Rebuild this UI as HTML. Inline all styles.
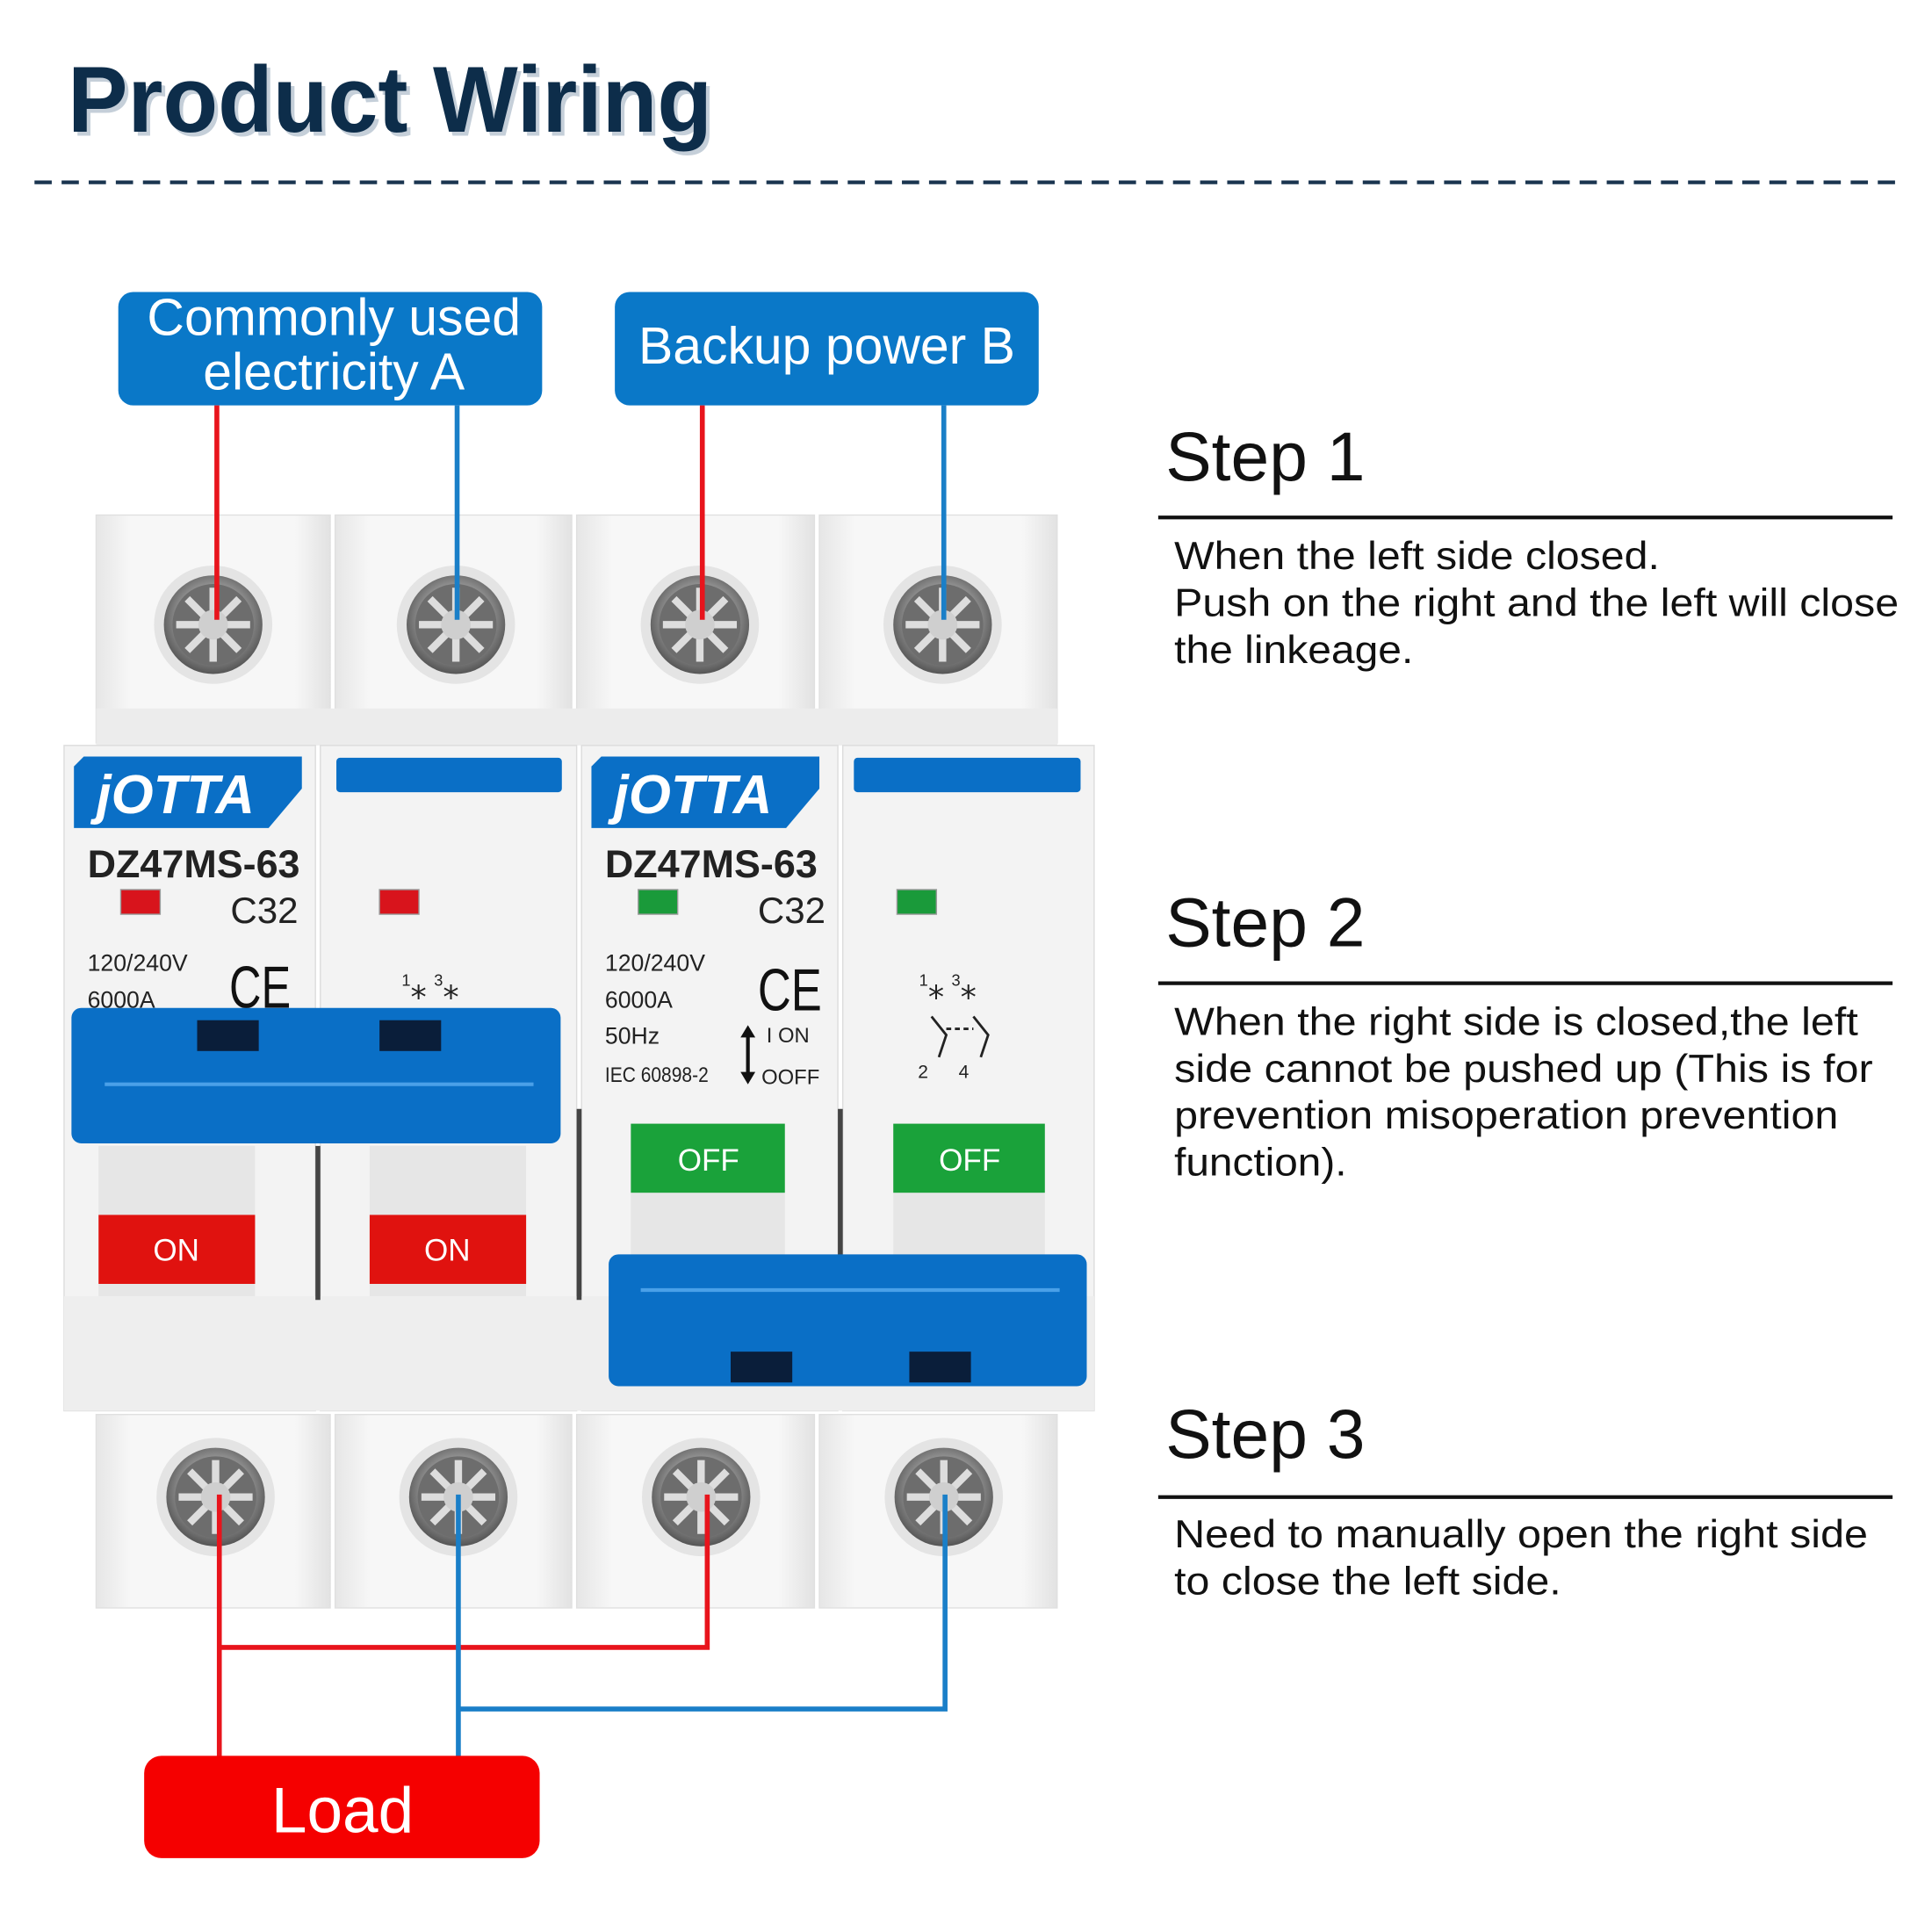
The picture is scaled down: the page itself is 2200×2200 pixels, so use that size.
<!DOCTYPE html>
<html><head><meta charset="utf-8"><style>
html,body{margin:0;padding:0;background:#fff;}
svg{display:block;}
text{font-family:"Liberation Sans",sans-serif;}
</style></head><body>
<svg width="2200" height="2200" viewBox="0 0 1568 1568" xmlns="http://www.w3.org/2000/svg">
<defs>
<radialGradient id="scr" cx="50%" cy="45%" r="55%">
<stop offset="0" stop-color="#e8e8e8"/><stop offset="0.6" stop-color="#9a9a9a"/><stop offset="1" stop-color="#555"/>
</radialGradient>
<linearGradient id="mod" x1="0" x2="1"><stop offset="0" stop-color="#e6e6e6"/><stop offset="0.15" stop-color="#f7f7f7"/><stop offset="0.85" stop-color="#f7f7f7"/><stop offset="1" stop-color="#e2e2e2"/></linearGradient>
<g id="screw">
<circle r="48" fill="#e4e4e4"/>
<circle r="40" fill="url(#scr)"/>
<circle r="33" fill="#6d6d6d"/>
<g stroke="#ddd" stroke-width="6">
<line x1="-30" y1="0" x2="30" y2="0"/><line x1="0" y1="-30" x2="0" y2="30"/>
<line x1="-21" y1="-21" x2="21" y2="21"/><line x1="-21" y1="21" x2="21" y2="-21"/>
</g>
<circle r="12" fill="#cfcfcf"/>
</g>
</defs>
<rect width="1568" height="1568" fill="#fff"/>
<text x="58" y="110" font-size="76" font-weight="bold" fill="#9fb0c0" opacity="0.6" textLength="523" lengthAdjust="spacingAndGlyphs">Product Wiring</text>
<text x="55" y="107" font-size="76" font-weight="bold" fill="#0d2d4a" textLength="523" lengthAdjust="spacingAndGlyphs">Product Wiring</text>
<line x1="28" y1="148" x2="1540" y2="148" stroke="#1a3550" stroke-width="3" stroke-dasharray="14 8"/>

<rect x="96" y="237" width="344" height="92" rx="12" fill="#0a78c8"/>
<text x="271" y="272" font-size="42" fill="#fff" text-anchor="middle">Commonly used</text>
<text x="271" y="316" font-size="42" fill="#fff" text-anchor="middle">electricity A</text>
<rect x="499" y="237" width="344" height="92" rx="12" fill="#0a78c8"/>
<text x="671" y="295" font-size="42" fill="#fff" text-anchor="middle">Backup power B</text>

<g fill="url(#mod)" stroke="#e0e0e0">
<rect x="78" y="418" width="190" height="185"/><rect x="272" y="418" width="192" height="185"/>
<rect x="468" y="418" width="193" height="185"/><rect x="665" y="418" width="193" height="185"/>
</g>
<rect x="78" y="575" width="780" height="30" fill="#ececec"/>
<use href="#screw" x="173" y="507"/><use href="#screw" x="370" y="507"/><use href="#screw" x="568" y="507"/><use href="#screw" x="765" y="507"/>
<g stroke-width="4" fill="none">
<line x1="176" y1="329" x2="176" y2="503" stroke="#e8141c"/>
<line x1="371" y1="329" x2="371" y2="503" stroke="#1a7fc8"/>
<line x1="570" y1="329" x2="570" y2="503" stroke="#e8141c"/>
<line x1="766" y1="329" x2="766" y2="503" stroke="#1a7fc8"/>
</g>

<g fill="#f3f3f3" stroke="#dcdcdc">
<rect x="52" y="605" width="204" height="540"/><rect x="260" y="605" width="208" height="540"/>
<rect x="472" y="605" width="208" height="540"/><rect x="684" y="605" width="204" height="540"/>
</g>
<rect x="52" y="1052" width="836" height="93" fill="#eeeeee"/>
<line x1="258" y1="930" x2="258" y2="1055" stroke="#444" stroke-width="4"/>
<line x1="470" y1="900" x2="470" y2="1055" stroke="#444" stroke-width="4"/>
<line x1="682" y1="900" x2="682" y2="1020" stroke="#444" stroke-width="4"/>

<path d="M68 614 H245 V640 L218 672 H60 V622 Z" fill="#0a6fc6"/>
<text x="78" y="660" font-size="44" font-weight="bold" font-style="italic" fill="#fff">jOTTA</text>
<rect x="273" y="615" width="183" height="28" rx="3" fill="#0a6fc6"/>
<path d="M488 614 H665 V640 L638 672 H480 V622 Z" fill="#0a6fc6"/>
<text x="498" y="660" font-size="44" font-weight="bold" font-style="italic" fill="#fff">jOTTA</text>
<rect x="693" y="615" width="184" height="28" rx="3" fill="#0a6fc6"/>

<text x="71" y="712" font-size="32" font-weight="bold" fill="#222">DZ47MS-63</text>
<text x="491" y="712" font-size="32" font-weight="bold" fill="#222">DZ47MS-63</text>
<text x="187" y="749" font-size="30" fill="#222">C32</text>
<text x="615" y="749" font-size="30" fill="#222">C32</text>
<rect x="98" y="722" width="32" height="20" fill="#d8141c" stroke="#999"/>
<rect x="308" y="722" width="32" height="20" fill="#d8141c" stroke="#999"/>
<rect x="518" y="722" width="32" height="20" fill="#1a9a3a" stroke="#999"/>
<rect x="728" y="722" width="32" height="20" fill="#1a9a3a" stroke="#999"/>

<text x="71" y="788" font-size="19" fill="#222">120/240V</text>
<text x="71" y="818" font-size="19" fill="#222">6000A</text>
<text x="186" y="818" font-size="48" fill="#111" textLength="50" lengthAdjust="spacingAndGlyphs">CE</text>
<text x="326" y="810" font-size="26" fill="#222"><tspan font-size="13" dy="-10">1</tspan><tspan dy="10">⁎</tspan><tspan font-size="13" dx="6" dy="-10">3</tspan><tspan dy="10">⁎</tspan></text>

<text x="491" y="788" font-size="19" fill="#222">120/240V</text>
<text x="491" y="818" font-size="19" fill="#222">6000A</text>
<text x="491" y="847" font-size="19" fill="#222">50Hz</text>
<text x="491" y="878" font-size="17" fill="#222" textLength="84" lengthAdjust="spacingAndGlyphs">IEC 60898-2</text>
<text x="615" y="820" font-size="48" fill="#111" textLength="52" lengthAdjust="spacingAndGlyphs">CE</text>
<line x1="607" y1="840" x2="607" y2="872" stroke="#111" stroke-width="3"/>
<path d="M601 842 L607 832 L613 842 Z M601 870 L607 880 L613 870 Z" fill="#111"/>
<text x="622" y="846" font-size="17" fill="#222">I ON</text>
<text x="618" y="880" font-size="17" fill="#222">OOFF</text>
<text x="746" y="810" font-size="26" fill="#222"><tspan font-size="13" dy="-10">1</tspan><tspan dy="10">⁎</tspan><tspan font-size="13" dx="6" dy="-10">3</tspan><tspan dy="10">⁎</tspan></text>
<path d="M756 825 L768 840 L762 858 M790 825 L802 840 L796 858" stroke="#222" stroke-width="2" fill="none"/>
<path d="M768 835 H790" stroke="#222" stroke-width="2" stroke-dasharray="4 3"/>
<text x="745" y="875" font-size="15" fill="#222">2</text><text x="778" y="875" font-size="15" fill="#222">4</text>

<rect x="80" y="930" width="127" height="122" fill="#e6e6e6"/>
<rect x="300" y="930" width="127" height="122" fill="#e6e6e6"/>
<rect x="80" y="986" width="127" height="56" fill="#e0120f"/>
<rect x="300" y="986" width="127" height="56" fill="#e0120f"/>
<text x="143" y="1023" font-size="25" fill="#fff" text-anchor="middle">ON</text>
<text x="363" y="1023" font-size="25" fill="#fff" text-anchor="middle">ON</text>
<rect x="58" y="818" width="397" height="110" rx="8" fill="#0a6fc6"/>
<rect x="160" y="828" width="50" height="25" fill="#0a1e3a"/>
<rect x="308" y="828" width="50" height="25" fill="#0a1e3a"/>
<line x1="85" y1="880" x2="433" y2="880" stroke="#4aa0e8" stroke-width="3"/>

<rect x="512" y="912" width="125" height="108" fill="#e6e6e6"/>
<rect x="725" y="912" width="123" height="108" fill="#e6e6e6"/>
<rect x="512" y="912" width="125" height="56" fill="#1aa23a"/>
<rect x="725" y="912" width="123" height="56" fill="#1aa23a"/>
<text x="575" y="950" font-size="25" fill="#fff" text-anchor="middle">OFF</text>
<text x="787" y="950" font-size="25" fill="#fff" text-anchor="middle">OFF</text>
<rect x="494" y="1018" width="388" height="107" rx="8" fill="#0a6fc6"/>
<line x1="520" y1="1047" x2="860" y2="1047" stroke="#4aa0e8" stroke-width="3"/>
<rect x="593" y="1097" width="50" height="25" fill="#0a1e3a"/>
<rect x="738" y="1097" width="50" height="25" fill="#0a1e3a"/>

<g fill="url(#mod)" stroke="#e0e0e0">
<rect x="78" y="1148" width="190" height="157"/><rect x="272" y="1148" width="192" height="157"/>
<rect x="468" y="1148" width="193" height="157"/><rect x="665" y="1148" width="193" height="157"/>
</g>
<use href="#screw" x="175" y="1215"/><use href="#screw" x="372" y="1215"/><use href="#screw" x="569" y="1215"/><use href="#screw" x="766" y="1215"/>

<g stroke-width="4" fill="none">
<polyline points="178,1213 178,1426" stroke="#e8141c"/>
<polyline points="178,1337 574,1337 574,1213" stroke="#e8141c"/>
<polyline points="372,1213 372,1426" stroke="#1a7fc8"/>
<polyline points="372,1387 767,1387 767,1213" stroke="#1a7fc8"/>
</g>
<rect x="117" y="1425" width="321" height="83" rx="14" fill="#f50000"/>
<text x="278" y="1487" font-size="52" fill="#fff" text-anchor="middle">Load</text>

<g fill="#111">
<text x="946" y="390" font-size="56">Step 1</text>
<text x="953" y="462" font-size="32" textLength="394" lengthAdjust="spacingAndGlyphs">When the left side closed.</text>
<text x="953" y="500" font-size="32" textLength="588" lengthAdjust="spacingAndGlyphs">Push on the right and the left will close</text>
<text x="953" y="538" font-size="32" textLength="194" lengthAdjust="spacingAndGlyphs">the linkeage.</text>
<text x="946" y="768" font-size="56">Step 2</text>
<text x="953" y="840" font-size="32" textLength="555" lengthAdjust="spacingAndGlyphs">When the right side is closed,the left</text>
<text x="953" y="878" font-size="32" textLength="567" lengthAdjust="spacingAndGlyphs">side cannot be pushed up (This is for</text>
<text x="953" y="916" font-size="32" textLength="539" lengthAdjust="spacingAndGlyphs">prevention misoperation prevention</text>
<text x="953" y="954" font-size="32" textLength="140" lengthAdjust="spacingAndGlyphs">function).</text>
<text x="946" y="1183" font-size="56">Step 3</text>
<text x="953" y="1256" font-size="32" textLength="563" lengthAdjust="spacingAndGlyphs">Need to manually open the right side</text>
<text x="953" y="1294" font-size="32" textLength="314" lengthAdjust="spacingAndGlyphs">to close the left side.</text>
</g>
<g stroke="#111" stroke-width="3">
<line x1="940" y1="420" x2="1536" y2="420"/>
<line x1="940" y1="798" x2="1536" y2="798"/>
<line x1="940" y1="1215" x2="1536" y2="1215"/>
</g>
</svg>
</body></html>
